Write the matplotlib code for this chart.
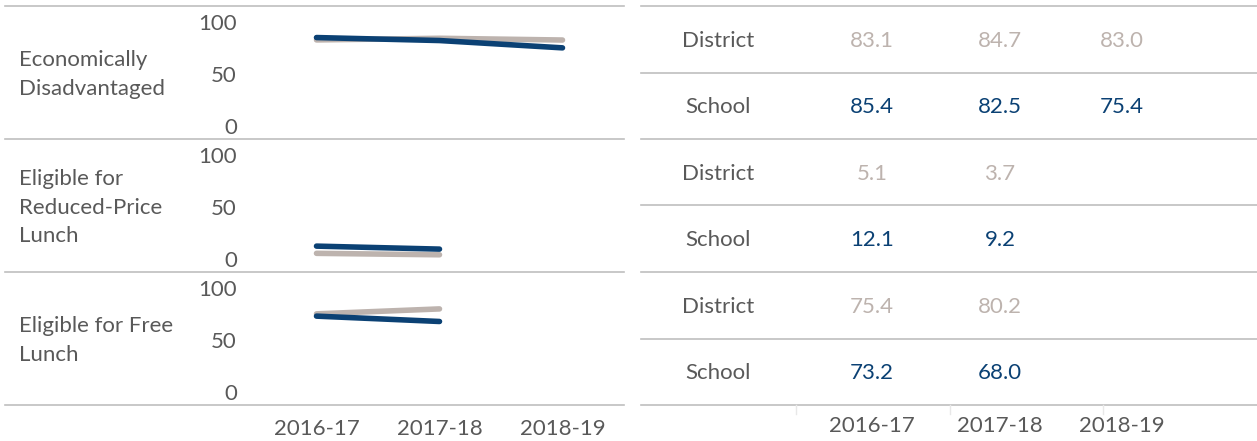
import matplotlib.pyplot as plt
from matplotlib.lines import Line2D

# School vs district lunch / economic status rates (%)
years = ['2016-17', '2017-18', '2018-19']
groups = ['Economically\nDisadvantaged',
          'Eligible for\nReduced-Price\nLunch',
          'Eligible for Free\nLunch']
district_econ = [83.1, 84.7, 83.0]
school_econ = [85.4, 82.5, 75.4]
district_reduced = [5.1, 3.7]
school_reduced = [12.1, 9.2]
district_free = [75.4, 80.2]
school_free = [73.2, 68.0]

district_vals = [district_econ, district_reduced, district_free]
school_vals = [school_econ, school_reduced, school_free]

GREY_LINE = '#bdb3ae'
BLUE = '#0b4174'
TEXT = '#595959'
RULE = '#bfbfbf'
FS = 16

plt.rcParams['font.family'] = ['Lato', 'DejaVu Sans']

W, H = 1257, 441
fig = plt.figure(figsize=(W / 100, H / 100), dpi=100)


def fx(px):
    return px / W


def fy(py):
    return 1 - py / H


def hline(y, x0, x1, color=RULE, lw=1.2):
    fig.add_artist(Line2D([fx(x0), fx(x1)], [fy(y), fy(y)], color=color, lw=lw))


# panel boundaries in pixels (top, bottom)
bands = [(6, 139), (139, 272), (272, 405)]

for i, (top, bottom) in enumerate(bands):
    ax = fig.add_axes([fx(255), fy(bottom), fx(624) - fx(255), fy(top) - fy(bottom)])
    d = district_vals[i]
    s = school_vals[i]
    ax.plot(range(len(d)), d, color=GREY_LINE, lw=4, solid_capstyle='round')
    ax.plot(range(len(s)), s, color=BLUE, lw=4, solid_capstyle='round')
    ax.set_xlim(-0.5, 2.5)
    ax.set_ylim(-13, 116)
    ax.set_yticks([0, 50, 100])
    ax.tick_params(axis='y', length=0, pad=13, labelsize=FS, labelcolor=TEXT)
    ax.set_xticks([])
    for sp in ax.spines.values():
        sp.set_visible(False)
    if i == 2:
        ax.set_xticks(range(len(years)))
        ax.set_xticklabels(years)
        ax.tick_params(axis='x', length=0, pad=10, labelsize=FS, labelcolor=TEXT)

    mid = (top + bottom) / 2 + 2
    fig.text(fx(19), fy(mid), groups[i], ha='left', va='center', fontsize=FS,
             color=TEXT, linespacing=1.55)

    # table on the right
    row_d = top + (bottom - top) * 0.26
    row_s = top + (bottom - top) * 0.76
    fig.text(fx(718), fy(row_d), 'District', ha='center', va='center', fontsize=FS, color=TEXT)
    fig.text(fx(718), fy(row_s), 'School', ha='center', va='center', fontsize=FS, color=TEXT)
    cols = [872, 1000, 1122]
    for j, v in enumerate(d):
        fig.text(fx(cols[j]), fy(row_d), f'{v:.1f}', ha='center', va='center',
                 fontsize=FS, color=GREY_LINE)
    for j, v in enumerate(s):
        fig.text(fx(cols[j]), fy(row_s), f'{v:.1f}', ha='center', va='center',
                 fontsize=FS, color=BLUE)
    hline((top + bottom) / 2, 641, W)
    hline(bottom, 641, W)
    hline(bottom, 5, 624)

# top rules
hline(6, 5, 624)
hline(6, 641, W)

# column ticks under the table and year labels
for x in [796, 950, 1103]:
    fig.add_artist(Line2D([fx(x), fx(x)], [fy(405), fy(414)], color='#e8e8e8', lw=1))
for j, yr in enumerate(years):
    fig.text(fx([872, 1000, 1122][j]), fy(426), yr, ha='center', va='center',
             fontsize=FS, color=TEXT)

fig.savefig('out.png', dpi=100)
